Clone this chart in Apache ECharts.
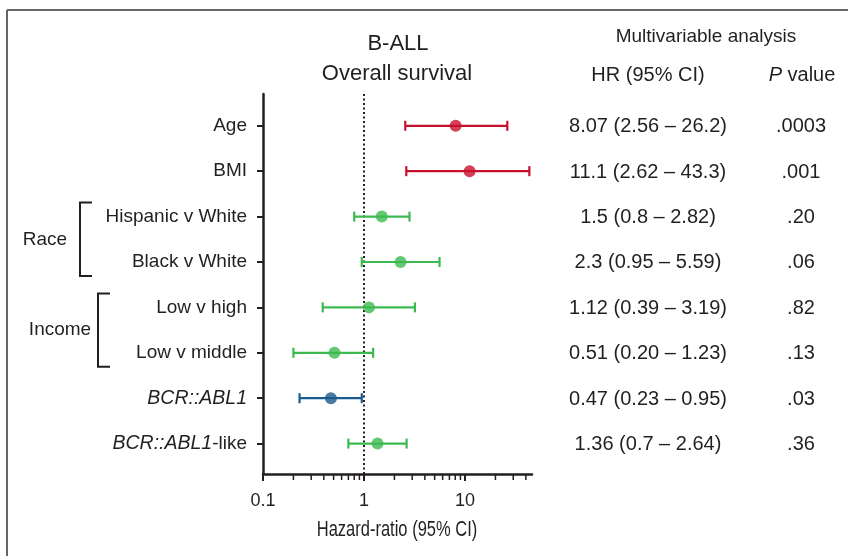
<!DOCTYPE html>
<html><head><meta charset="utf-8">
<script src="https://cdn.jsdelivr.net/npm/echarts@6/dist/echarts.min.js"></script>
<style>html,body{margin:0;padding:0;background:#fff}#c{width:848px;height:556px}</style>
</head><body><div id="c"></div>
<script>
// ---- data ----
const categories = ['Age', 'BMI', 'Hispanic v White', 'Black v White', 'Low v high', 'Low v middle', 'BCR::ABL1', 'BCR::ABL1-like'];
const hr = [8.07, 11.1, 1.5, 2.3, 1.12, 0.51, 0.47, 1.36];
const ciLow = [2.56, 2.62, 0.8, 0.95, 0.39, 0.20, 0.23, 0.7];
const ciHigh = [26.2, 43.3, 2.82, 5.59, 3.19, 1.23, 0.95, 2.64];
const hrText = ['8.07 (2.56 \u2013 26.2)', '11.1 (2.62 \u2013 43.3)', '1.5 (0.8 \u2013 2.82)', '2.3 (0.95 \u2013 5.59)', '1.12 (0.39 \u2013 3.19)', '0.51 (0.20 \u2013 1.23)', '0.47 (0.23 \u2013 0.95)', '1.36 (0.7 \u2013 2.64)'];
const pText = ['.0003', '.001', '.20', '.06', '.82', '.13', '.03', '.36'];
const rowGroup = ['risk', 'risk', 'ns', 'ns', 'ns', 'ns', 'protective', 'ns'];
const groupNames = ['Race', 'Income'];
const groupFrom = [2, 4];
const groupTo = [3, 5];
const xTickLabels = [0.1, 1, 10];
const minorTickValues = [0.2, 0.3, 0.4, 0.5, 0.6, 0.7, 0.8, 0.9, 2, 3, 4, 5, 6, 7, 8, 9, 20, 30, 40];
const refValue = 1;
const xAxisName = 'Hazard-ratio (95% CI)';

// ---- styles ----
const colorMap = { risk: '#c8102e', ns: '#3dba4f', protective: '#1b5a8c' };
const INK = '#231f20';
const FONT = '"Liberation Sans", Arial, Helvetica, sans-serif';
const X_MIN = 0.1, X_MAX = 46, Y_MIN = -0.7, Y_MAX = 7.67;
const bracketX = [80, 98];
const groupLabelX = [45, 60];
const hrColX = 648, pColX = 801;

const chart = echarts.init(document.getElementById('c'), null, { renderer: 'canvas' });

const option = {
  backgroundColor: '#fff',
  animation: false,
  textStyle: { fontFamily: FONT, color: INK },
  grid: { left: 263, top: 94, width: 269, height: 380, containLabel: false },
  xAxis: {
    type: 'log', logBase: 10, min: X_MIN, max: X_MAX,
    axisLine: { show: true, onZero: false, lineStyle: { color: INK, width: 2.5 } },
    axisTick: { show: true, inside: false, length: 7, lineStyle: { color: INK, width: 2 }, customValues: xTickLabels },
    axisLabel: { show: true, customValues: xTickLabels, margin: 18, fontSize: 18, color: INK, fontFamily: FONT,
      formatter: v => String(v) },
    splitLine: { show: false }, minorTick: { show: false }
  },
  yAxis: {
    type: 'value', inverse: true, min: Y_MIN, max: Y_MAX,
    axisLine: { show: true, onZero: false, lineStyle: { color: INK, width: 2.5 } },
    axisTick: { show: true, inside: false, length: 6, lineStyle: { color: INK, width: 2 }, customValues: categories.map((c, i) => i) },
    axisLabel: { show: true, customValues: categories.map((c, i) => i), margin: 16, fontSize: 19, color: INK, fontFamily: FONT,
      formatter: v => {
        const s = categories[Math.round(v)];
        if (s === 'BCR::ABL1') return '{it|BCR::ABL1}';
        if (s === 'BCR::ABL1-like') return '{it|BCR::ABL1}-like';
        return s;
      },
      rich: { it: { fontStyle: 'italic', fontSize: 19.5, color: INK, fontFamily: FONT } }
    },
    splitLine: { show: false }
  },
  graphic: [
    { type: 'line', shape: { x1: 7, y1: 10, x2: 848, y2: 10 }, style: { stroke: '#666', lineWidth: 2 } },
    { type: 'line', shape: { x1: 7, y1: 10, x2: 7, y2: 556 }, style: { stroke: '#666', lineWidth: 2 } },
    { type: 'text', x: 398, y: 44, style: { text: 'B-ALL', font: '22px ' + FONT, fill: INK, textAlign: 'center', textVerticalAlign: 'middle' } },
    { type: 'text', x: 397, y: 74, style: { text: 'Overall survival', font: '22px ' + FONT, fill: INK, textAlign: 'center', textVerticalAlign: 'middle' } },
    { type: 'text', x: 706, y: 37, style: { text: 'Multivariable analysis', font: '19px ' + FONT, fill: INK, textAlign: 'center', textVerticalAlign: 'middle' } },
    { type: 'text', x: hrColX, y: 75, style: { text: 'HR (95% CI)', font: '20px ' + FONT, fill: INK, textAlign: 'center', textVerticalAlign: 'middle' } },
    { type: 'text', x: 802, y: 75, style: { text: '{i|P} value', font: '20px ' + FONT, fill: INK, textAlign: 'center', textVerticalAlign: 'middle',
      rich: { i: { fontStyle: 'italic', fontSize: 20, fontFamily: FONT, fill: INK } } } },
    { type: 'text', x: 397, y: 530, scaleX: 0.75, style: { text: xAxisName, font: '22px ' + FONT, fill: INK, textAlign: 'center', textVerticalAlign: 'middle' } }
  ],
  series: [
    {
      type: 'custom', name: 'ci', silent: true, clip: false,
      encode: { x: [0, 1], y: 2 },
      data: categories.map((c, i) => [ciLow[i], ciHigh[i], i]),
      renderItem: (params, api) => {
        const lo = api.coord([api.value(0), api.value(2)]);
        const hi = api.coord([api.value(1), api.value(2)]);
        const st = { stroke: colorMap[rowGroup[params.dataIndex]], lineWidth: 2.2 };
        return { type: 'group', children: [
          { type: 'line', shape: { x1: lo[0], y1: lo[1], x2: hi[0], y2: hi[1] }, style: st },
          { type: 'line', shape: { x1: lo[0], y1: lo[1] - 5, x2: lo[0], y2: lo[1] + 5 }, style: st },
          { type: 'line', shape: { x1: hi[0], y1: hi[1] - 5, x2: hi[0], y2: hi[1] + 5 }, style: st }
        ] };
      },
      z: 3
    },
    {
      type: 'scatter', name: 'hr', silent: true, symbol: 'circle', symbolSize: 12,
      data: categories.map((c, i) => ({ value: [hr[i], i], itemStyle: { color: colorMap[rowGroup[i]] } })),
      z: 4,
      markLine: {
        silent: true, symbol: 'none', label: { show: false },
        lineStyle: { type: [2, 2.5], color: INK, width: 2 },
        data: [{ xAxis: refValue }], z: 2
      }
    },
    {
      type: 'custom', name: 'minorTicks', silent: true, clip: false,
      encode: { x: 0, y: 1 },
      data: minorTickValues.map(v => [v, Y_MAX]),
      renderItem: (params, api) => {
        const p = api.coord([api.value(0), api.value(1)]);
        return { type: 'line', shape: { x1: p[0], y1: p[1], x2: p[0], y2: p[1] + 6 }, style: { stroke: INK, lineWidth: 1.5 } };
      }
    },
    {
      type: 'custom', name: 'brackets', silent: true, clip: false,
      encode: { y: [0, 1] },
      data: groupNames.map((g, i) => [groupFrom[i], groupTo[i]]),
      renderItem: (params, api) => {
        const i = params.dataIndex;
        const y0 = api.coord([1, api.value(0)])[1] - 14;
        const y1 = api.coord([1, api.value(1)])[1] + 14;
        const bx = bracketX[i];
        const st = { stroke: INK, lineWidth: 2, fill: null };
        return { type: 'group', children: [
          { type: 'polyline', shape: { points: [[bx + 12, y0], [bx, y0], [bx, y1], [bx + 12, y1]] }, style: st },
          { type: 'text', x: groupLabelX[i], y: (y0 + y1) / 2, style: { text: groupNames[i], font: '19px ' + FONT, fill: INK, textAlign: 'center', textVerticalAlign: 'middle' } }
        ] };
      }
    },
    {
      type: 'custom', name: 'table', silent: true, clip: false,
      encode: { y: 1 },
      data: categories.map((c, i) => [1, i]),
      renderItem: (params, api) => {
        const i = params.dataIndex;
        const y = api.coord([1, api.value(1)])[1];
        return { type: 'group', children: [
          { type: 'text', x: hrColX, y: y + 1, style: { text: hrText[i], font: '20px ' + FONT, fill: INK, textAlign: 'center', textVerticalAlign: 'middle' } },
          { type: 'text', x: pColX, y: y + 1, style: { text: pText[i], font: '20px ' + FONT, fill: INK, textAlign: 'center', textVerticalAlign: 'middle' } }
        ] };
      }
    }
  ]
};
chart.setOption(option);
</script>
</body></html>
